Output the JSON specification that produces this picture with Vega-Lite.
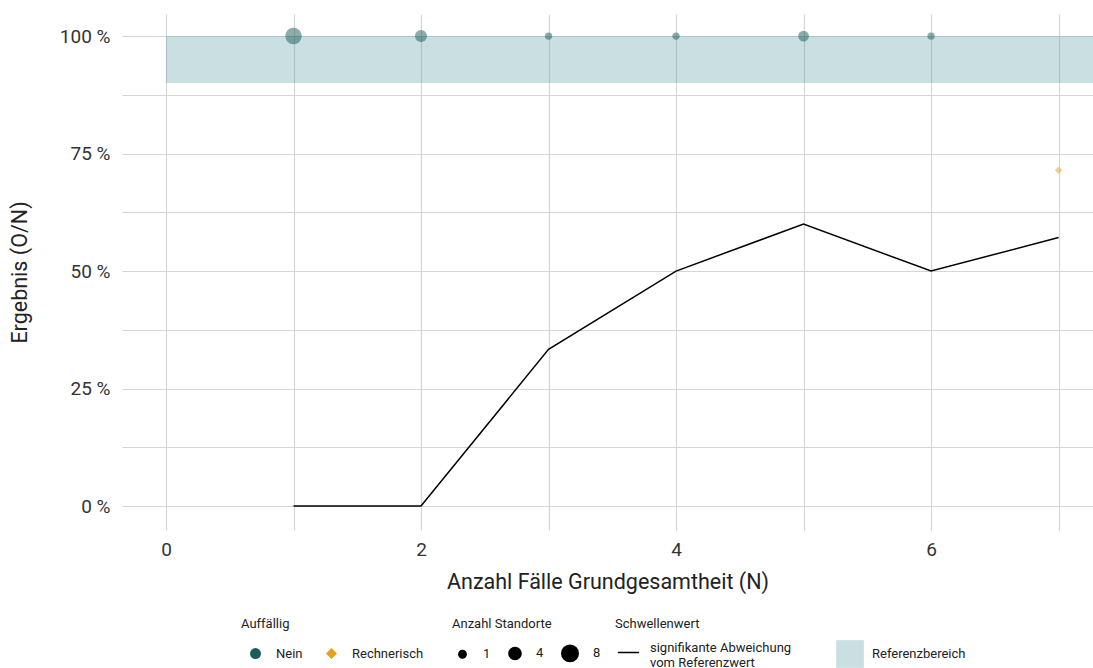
{
  "$schema": "https://vega.github.io/schema/vega-lite/v6.json",
  "width": 971,
  "height": 516,
  "autosize": {"type": "none"},
  "padding": {"left": 122, "top": 14, "right": 0, "bottom": 138},
  "datasets": {
    "punkte": [
      {"N": 1, "Ergebnis": 100, "Auffaellig": "Nein", "Standorte": 8},
      {"N": 2, "Ergebnis": 100, "Auffaellig": "Nein", "Standorte": 4},
      {"N": 3, "Ergebnis": 100, "Auffaellig": "Nein", "Standorte": 1},
      {"N": 4, "Ergebnis": 100, "Auffaellig": "Nein", "Standorte": 1},
      {"N": 5, "Ergebnis": 100, "Auffaellig": "Nein", "Standorte": 3},
      {"N": 6, "Ergebnis": 100, "Auffaellig": "Nein", "Standorte": 1},
      {"N": 7, "Ergebnis": 71.43, "Auffaellig": "Rechnerisch", "Standorte": 1}
    ],
    "schwelle": [
      {"N": 1, "Wert": 0, "Schwellenwert": "signifikante Abweichung vom Referenzwert"},
      {"N": 2, "Wert": 0, "Schwellenwert": "signifikante Abweichung vom Referenzwert"},
      {"N": 3, "Wert": 33.33, "Schwellenwert": "signifikante Abweichung vom Referenzwert"},
      {"N": 4, "Wert": 50, "Schwellenwert": "signifikante Abweichung vom Referenzwert"},
      {"N": 5, "Wert": 60, "Schwellenwert": "signifikante Abweichung vom Referenzwert"},
      {"N": 6, "Wert": 50, "Schwellenwert": "signifikante Abweichung vom Referenzwert"},
      {"N": 7, "Wert": 57.14, "Schwellenwert": "signifikante Abweichung vom Referenzwert"}
    ],
    "referenz": [
      {"von": 0, "bis": 7.35, "unten": 90, "oben": 100, "Bereich": "Referenzbereich"}
    ]
  },
  "layer": [
    {
      "data": {"name": "schwelle"},
      "mark": {"type": "line", "strokeWidth": 1.5},
      "encoding": {
        "x": {
          "field": "N", "type": "quantitative",
          "title": "Anzahl Fälle Grundgesamtheit (N)",
          "scale": {"domain": [-0.345, 7.27], "nice": false, "zero": false},
          "axis": {
            "values": [0, 1, 2, 3, 4, 5, 6, 7],
            "format": "d",
            "labelExpr": "datum.value % 2 === 0 ? datum.label : ''",
            "labelPadding": 10,
            "titlePadding": 12
          }
        },
        "y": {
          "field": "Wert", "type": "quantitative",
          "title": "Ergebnis (O/N)",
          "scale": {"domain": [-5.1, 104.7], "nice": false, "zero": false},
          "axis": {
            "values": [0, 12.5, 25, 37.5, 50, 62.5, 75, 87.5, 100],
            "labelExpr": "datum.value % 25 === 0 ? datum.value + ' %' : ''",
            "labelPadding": 12,
            "titlePadding": 28
          }
        },
        "stroke": {
          "field": "Schwellenwert", "type": "nominal",
          "scale": {"range": ["#000000"]},
          "legend": {
            "title": "Schwellenwert",
            "orient": "none",
            "legendX": 493,
            "legendY": 604,
            "direction": "horizontal",
            "symbolType": "stroke",
            "symbolSize": 450,
            "symbolStrokeWidth": 1.5,
            "symbolOffset": 2,
            "labelOffset": 10,
            "titlePadding": 10,
            "labelExpr": "[slice(datum.label, 0, 23), slice(datum.label, 24)]",
            "encode": {"labels": {"update": {"dy": {"value": -5}}}}
          }
        }
      }
    },
    {
      "data": {"name": "referenz"},
      "mark": {"type": "rect", "opacity": 0.3, "clip": true},
      "encoding": {
        "x": {"field": "von", "type": "quantitative", "title": "Anzahl Fälle Grundgesamtheit (N)"},
        "x2": {"field": "bis"},
        "y": {"field": "unten", "type": "quantitative", "title": "Ergebnis (O/N)"},
        "y2": {"field": "oben"},
        "color": {
          "field": "Bereich", "type": "nominal",
          "scale": {"range": ["#4b949b"]},
          "legend": {
            "title": null,
            "orient": "none",
            "legendX": 713,
            "legendY": 625,
            "direction": "horizontal",
            "symbolType": "square",
            "symbolSize": 767,
            "labelOffset": 7
          }
        }
      }
    },
    {
      "data": {"name": "punkte"},
      "transform": [{"filter": "false"}],
      "mark": {"type": "point", "filled": true, "opacity": 1},
      "encoding": {
        "x": {"field": "N", "type": "quantitative", "title": "Anzahl Fälle Grundgesamtheit (N)"},
        "y": {"field": "Ergebnis", "type": "quantitative", "title": "Ergebnis (O/N)"},
        "fill": {
          "field": "Auffaellig", "type": "nominal",
          "scale": {"domain": ["Nein", "Rechnerisch"], "range": ["#1b5b5b", "#e6a11b"]},
          "legend": {
            "title": "Auffällig",
            "orient": "none",
            "legendX": 119,
            "legendY": 604,
            "direction": "horizontal",
            "symbolSize": 120,
            "symbolOffset": 8,
            "columnPadding": 14,
            "labelOffset": 14,
            "titlePadding": 16
          }
        },
        "shape": {
          "field": "Auffaellig", "type": "nominal",
          "scale": {"domain": ["Nein", "Rechnerisch"], "range": ["circle", "diamond"]},
          "legend": {"title": "Auffällig"}
        },
        "size": {
          "field": "Standorte", "type": "quantitative",
          "scale": {"domain": [1, 8], "range": [54, 270]},
          "legend": {
            "title": "Anzahl Standorte",
            "orient": "none",
            "legendX": 330,
            "legendY": 604,
            "direction": "horizontal",
            "values": [1, 4, 8],
            "symbolFillColor": "#000000",
            "symbolStrokeColor": "#000000",
            "symbolOffset": 4,
            "columnPadding": 13,
            "labelOffset": 14,
            "titlePadding": 13
          }
        }
      }
    },
    {
      "data": {"name": "punkte"},
      "mark": {"type": "point", "filled": true, "opacity": 0.5},
      "encoding": {
        "x": {"field": "N", "type": "quantitative", "title": "Anzahl Fälle Grundgesamtheit (N)"},
        "y": {"field": "Ergebnis", "type": "quantitative", "title": "Ergebnis (O/N)"},
        "fill": {"field": "Auffaellig", "type": "nominal", "legend": {"title": "Auffällig"}},
        "shape": {"field": "Auffaellig", "type": "nominal", "legend": {"title": "Auffällig"}},
        "size": {"field": "Standorte", "type": "quantitative", "legend": {"title": "Anzahl Standorte"}}
      }
    }
  ],
  "config": {
    "font": "Roboto",
    "view": {"stroke": null},
    "axis": {
      "domain": false,
      "ticks": false,
      "grid": true,
      "gridColor": "#d6d6d6",
      "gridWidth": 1.2,
      "labelFontSize": 19,
      "labelColor": "#333333",
      "titleFontSize": 21.5,
      "titleFontWeight": "normal",
      "titleColor": "#222222"
    },
    "legend": {
      "padding": 0,
      "titleFontSize": 13,
      "titleFontWeight": "normal",
      "titleColor": "#222222",
      "labelFontSize": 13,
      "labelColor": "#222222"
    }
  }
}
